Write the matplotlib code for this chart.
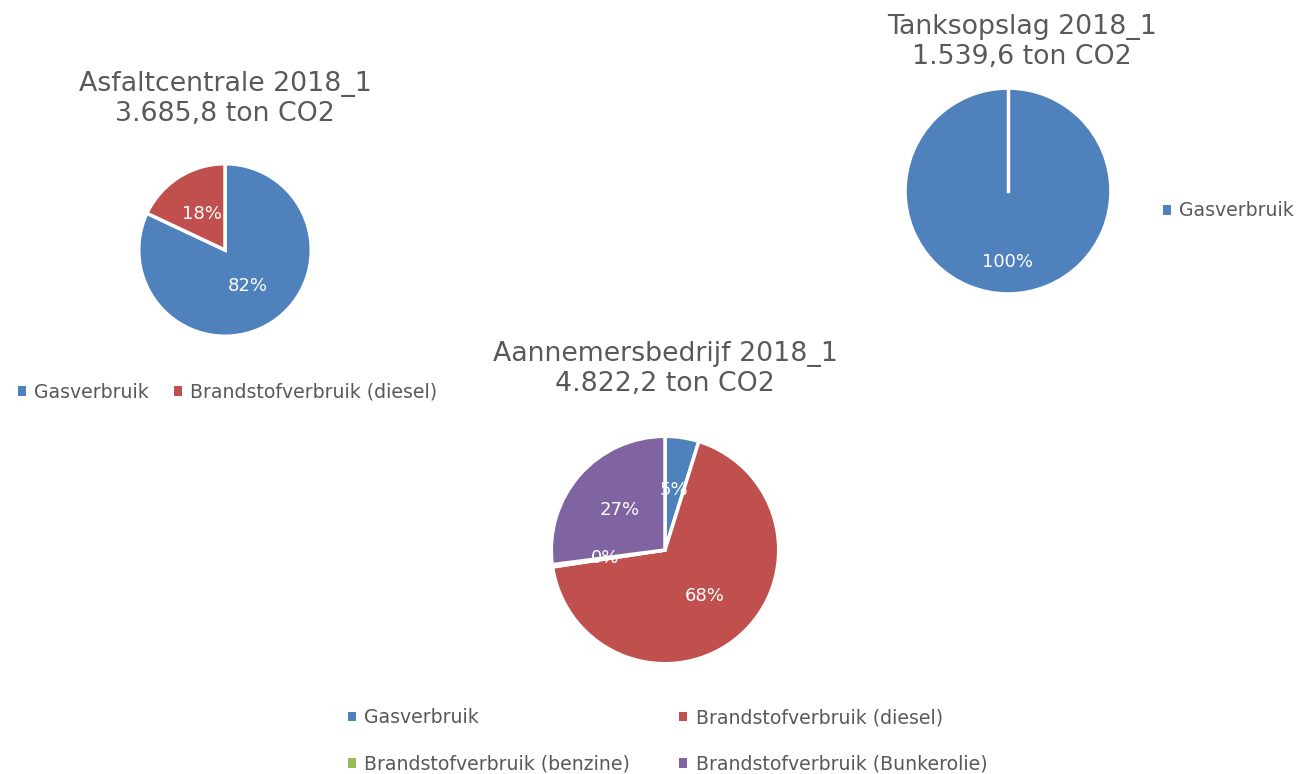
import matplotlib
matplotlib.use("Agg")
import matplotlib.pyplot as plt
from matplotlib.patches import Patch

plt.rcParams["font.family"] = ["DejaVu Sans"]

# ---- data ----
asfalt_labels = ["Gasverbruik", "Brandstofverbruik (diesel)"]
asfalt_values = [3022.4, 663.4]          # 82% / 18% van 3.685,8

tank_labels = ["Gasverbruik"]
tank_values = [1539.6]

aann_labels = ["Gasverbruik", "Brandstofverbruik (diesel)",
               "Brandstofverbruik (benzine)", "Brandstofverbruik (Bunkerolie)"]
aann_values = [232.0, 3270.0, 15.2, 1305.0]   # 5% / 68% / 0% / 27%

titles = ["Asfaltcentrale 2018_1\n3.685,8 ton CO2",
          "Tanksopslag 2018_1\n1.539,6 ton CO2",
          "Aannemersbedrijf 2018_1\n4.822,2 ton CO2"]

kleuren = ["#4F81BD", "#C0504D", "#9BBB59", "#8064A2"]
GRIJS = "#595959"

W, H = 1300, 774
fig = plt.figure(figsize=(13, 7.74), dpi=100)

LEG = dict(frameon=False, fontsize=13.6, labelcolor=GRIJS,
           handlelength=0.42, handleheight=0.42, handletextpad=0.45)


def pie_axes(cx, cy, r):
    # cx, cy, r in pixels (y van boven)
    return fig.add_axes([(cx - r) / W, (H - cy - r) / H, 2 * r / W, 2 * r / H])


def teken(ax, values, pctdist):
    ax.pie(values, colors=kleuren[:len(values)], startangle=90,
           counterclock=False, autopct="%1.0f%%", pctdistance=pctdist,
           wedgeprops=dict(edgecolor="white", linewidth=2.5),
           textprops=dict(color="white", fontsize=13))
    ax.set_xlim(-1.02, 1.02)
    ax.set_ylim(-1.02, 1.02)
    ax.axis("off")
    return [Patch(facecolor=kleuren[i], edgecolor="none") for i in range(len(values))]


def titel(x, y, s):
    fig.text(x / W, 1 - y / H, s, ha="center", va="center",
             fontsize=19.3, color=GRIJS, linespacing=1.24)


# Asfaltcentrale
ax1 = pie_axes(225, 250, 88)
h1 = teken(ax1, asfalt_values, 0.5)
titel(225, 99, titles[0])
fig.legend(h1, asfalt_labels, loc="center left", bbox_to_anchor=(1 / W, 1 - 392 / H),
           ncol=2, columnspacing=1.3, **LEG)

# Tanksopslag
ax2 = pie_axes(1008, 191, 105)
h2 = teken(ax2, tank_values, 0.69)
ax2.plot([0, 0], [0, 1], color="white", lw=2.5)   # rand van de enkele sector
titel(1022, 42, titles[1])
fig.legend(h2, tank_labels, loc="center left", bbox_to_anchor=(1146 / W, 1 - 211 / H), **LEG)

# Aannemersbedrijf
ax3 = pie_axes(665, 550, 116)
h3 = teken(ax3, aann_values, 0.53)
titel(665, 369, titles[2])
volgorde = [0, 2, 1, 3]   # rijgewijs zoals in Excel
fig.legend([h3[i] for i in volgorde], [aann_labels[i] for i in volgorde],
           loc="center left", bbox_to_anchor=(331 / W, 1 - 741 / H), ncol=2,
           columnspacing=2.6, labelspacing=1.45, **LEG)

fig.savefig("out.png", dpi=100)
